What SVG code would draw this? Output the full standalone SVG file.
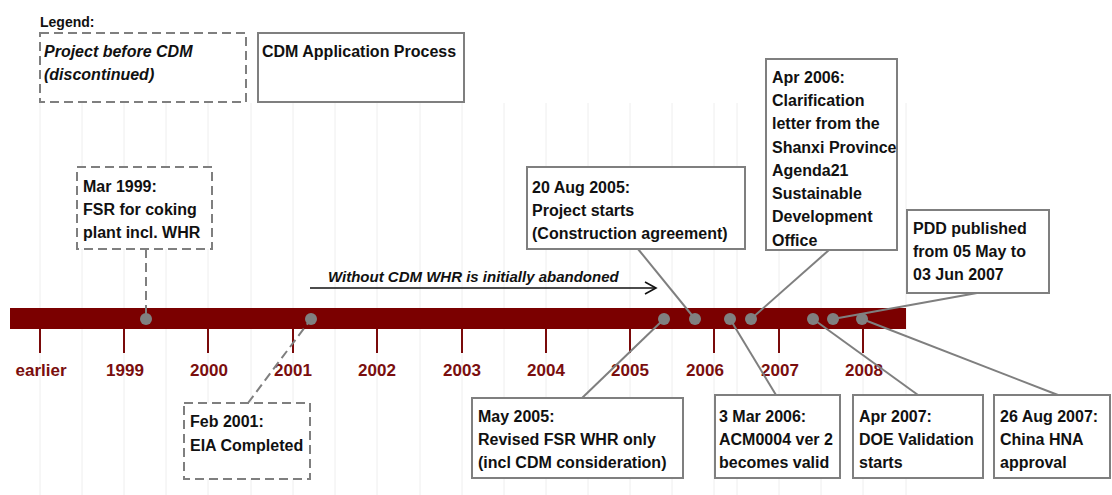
<svg xmlns="http://www.w3.org/2000/svg" width="1112" height="495" viewBox="0 0 1112 495">
<style>
text{font-family:"Liberation Sans",Arial,sans-serif;font-weight:bold;font-size:16px;fill:#111}
.box{fill:#fff;stroke:#7f7f7f;stroke-width:2}
.dash{stroke-dasharray:9,5}
.conn{stroke:#7f7f7f;stroke-width:2;fill:none}
.dot{fill:#808080}
.tick{stroke:#7a0a0a;stroke-width:2}
.yr{fill:#7a0e0e;font-size:17px;text-anchor:middle}
.grid{stroke:#eeeeee;stroke-width:1}
</style>
<defs>
<marker id="open" markerWidth="14" markerHeight="14" refX="12" refY="7" orient="auto" markerUnits="userSpaceOnUse">
<path d="M1,1 L12,7 L1,13" fill="none" stroke="#111" stroke-width="1.6"/>
</marker>
</defs>
<rect width="1112" height="495" fill="#fff"/>
<g id="grid">
<path class="grid" d="M40,103V495M82,103V495M124,103V495M166,103V495M208,103V495M251,103V495M293,103V495M335,103V495M377,103V495M420,103V495M462,103V495M504,103V495M546,103V495M588,103V495M630,103V495M672,103V495M714,103V495M737,103V495M779,103V495M821,103V495M863,103V495M906,103V495"/>
</g>
<g id="legend">
<text x="40" y="27" style="font-size:14px">Legend:</text>
<rect class="box dash" x="40" y="33" width="206" height="69"/>
<text x="44" y="57" font-style="italic">Project before CDM</text>
<text x="44" y="80" font-style="italic">(discontinued)</text>
<rect class="box" x="258" y="33" width="206" height="69"/>
<text x="262" y="57">CDM Application Process</text>
</g>
<g id="axis">
<rect x="10" y="308" width="896" height="21" fill="#7b0000"/>
<path class="tick" d="M40,329V353M124,329V353M208,329V353M293,329V353M377,329V353M462,329V353M546,329V353M630,329V353M714,329V353M779,329V353M863,329V353"/>
<text class="yr" x="41" y="376">earlier</text>
<text class="yr" x="125" y="376">1999</text>
<text class="yr" x="209" y="376">2000</text>
<text class="yr" x="293" y="376">2001</text>
<text class="yr" x="377" y="376">2002</text>
<text class="yr" x="462" y="376">2003</text>
<text class="yr" x="546" y="376">2004</text>
<text class="yr" x="630" y="376">2005</text>
<text class="yr" x="705" y="376">2006</text>
<text class="yr" x="780" y="376">2007</text>
<text class="yr" x="864" y="376">2008</text>
</g>
<g id="abandoned">
<line x1="310" y1="288" x2="656" y2="288" stroke="#111" stroke-width="1.6" marker-end="url(#open)"/>
<text x="328" y="282" font-style="italic" style="font-size:15px">Without CDM WHR is initially abandoned</text>
</g>
<g id="connectors">
<line class="conn dash" x1="146" y1="249" x2="146" y2="319"/>
<line class="conn dash" x1="248" y1="403" x2="311" y2="319"/>
<line class="conn" x1="581" y1="399" x2="664" y2="319"/>
<line class="conn" x1="638" y1="249" x2="695" y2="319"/>
<line class="conn" x1="776" y1="395" x2="730" y2="319"/>
<line class="conn" x1="829" y1="250" x2="751" y2="319"/>
<line class="conn" x1="918" y1="395" x2="813" y2="319"/>
<line class="conn" x1="977" y1="293" x2="833" y2="319"/>
<line class="conn" x1="1058" y1="395" x2="862" y2="319"/>
</g>
<g id="dots">
<circle class="dot" cx="146" cy="319" r="6"/>
<circle class="dot" cx="311" cy="319" r="6"/>
<circle class="dot" cx="664" cy="319" r="6"/>
<circle class="dot" cx="695" cy="319" r="6"/>
<circle class="dot" cx="730" cy="319" r="6"/>
<circle class="dot" cx="751" cy="319" r="6"/>
<circle class="dot" cx="813" cy="319" r="6"/>
<circle class="dot" cx="833" cy="319" r="6"/>
<circle class="dot" cx="862" cy="319" r="6"/>
</g>
<g id="n-mar1999">
<rect class="box dash" x="77" y="167" width="135" height="82"/>
<text x="83" y="192">Mar 1999:</text>
<text x="83" y="215">FSR for coking</text>
<text x="83" y="238">plant incl. WHR</text>
</g>
<g id="n-feb2001">
<rect class="box dash" x="184" y="403" width="126" height="76"/>
<text x="190" y="427">Feb 2001:</text>
<text x="190" y="451">EIA Completed</text>
</g>
<g id="n-aug2005">
<rect class="box" x="527" y="167" width="218" height="82"/>
<text x="532" y="193">20 Aug 2005:</text>
<text x="532" y="216">Project starts</text>
<text x="532" y="239">(Construction agreement)</text>
</g>
<g id="n-apr2006">
<rect class="box" x="766" y="59" width="131" height="191"/>
<text x="772" y="83">Apr 2006:</text>
<text x="772" y="106">Clarification</text>
<text x="772" y="129">letter from the</text>
<text x="772" y="153">Shanxi Province</text>
<text x="772" y="176">Agenda21</text>
<text x="772" y="199">Sustainable</text>
<text x="772" y="222">Development</text>
<text x="772" y="246">Office</text>
</g>
<g id="n-pdd">
<rect class="box" x="907" y="210" width="142" height="83"/>
<text x="913" y="234">PDD published</text>
<text x="913" y="257">from 05 May to</text>
<text x="913" y="280">03 Jun 2007</text>
</g>
<g id="n-may2005">
<rect class="box" x="472" y="398" width="211" height="80"/>
<text x="478" y="422">May 2005:</text>
<text x="478" y="445">Revised FSR WHR only</text>
<text x="478" y="468">(incl CDM consideration)</text>
</g>
<g id="n-mar2006">
<rect class="box" x="715" y="395" width="125" height="83"/>
<text x="719" y="422">3 Mar 2006:</text>
<text x="719" y="445">ACM0004 ver 2</text>
<text x="719" y="468">becomes valid</text>
</g>
<g id="n-apr2007">
<rect class="box" x="853" y="395" width="130" height="83"/>
<text x="859" y="422">Apr 2007:</text>
<text x="859" y="445">DOE Validation</text>
<text x="859" y="468">starts</text>
</g>
<g id="n-aug2007">
<rect class="box" x="994" y="395" width="116" height="83"/>
<text x="1000" y="422">26 Aug 2007:</text>
<text x="1000" y="445">China HNA</text>
<text x="1000" y="468">approval</text>
</g>
</svg>
